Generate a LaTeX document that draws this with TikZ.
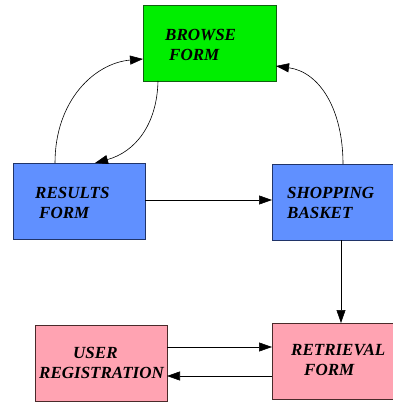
\documentclass[tikz,border=0pt]{standalone}
\usepackage{fontspec}
\setmainfont{Liberation Serif}
\usetikzlibrary{arrows.meta}
\definecolor{gfill}{HTML}{00EE00}
\definecolor{gdraw}{HTML}{106010}
\definecolor{bfill}{HTML}{6090FF}
\definecolor{bdraw}{HTML}{203468}
\definecolor{pfill}{HTML}{FFA3B2}
\definecolor{pdraw}{HTML}{4A2A2A}
\begin{document}
\begin{tikzpicture}[x=1pt,y=-1pt,
  lbl/.style={anchor=base west, inner sep=0pt, font=\fontsize{17}{20}\selectfont\bfseries\itshape},
  conn/.style={-{Triangle[length=13pt,width=9pt]}, line width=0.6pt}]
\useasboundingbox (0,0) rectangle (393,402);
% boxes
\path[fill=gfill, draw=gdraw, line width=1pt] (143.5,5.5) rectangle (276,81) node[pos=.5, inner sep=0pt] (browse) {};
\path[fill=bfill, draw=bdraw, line width=1pt] (13.5,163.5) rectangle (145,239) node[pos=.5, inner sep=0pt] (results) {};
\path[fill=bfill, draw=bdraw, line width=1pt] (272.5,164.5) rectangle (400,240) node[pos=.5, inner sep=0pt] (shop) {};
\path[fill=pfill, draw=pdraw, line width=1pt] (35.5,325.5) rectangle (167,401) node[pos=.5, inner sep=0pt] (user) {};
\path[fill=pfill, draw=pdraw, line width=1pt] (272.5,323.5) rectangle (400,399) node[pos=.5, inner sep=0pt] (retr) {};
% labels
\node[lbl] (t1) at (165,40) {BROWSE};
\node[lbl] (t2) at (169,60) {FORM};
\node[lbl] (t3) at (35,198) {RESULTS};
\node[lbl] (t4) at (39,218) {FORM};
\node[lbl] (t5) at (287,198) {SHOPPING};
\node[lbl] (t6) at (287,218) {BASKET};
\node[lbl] (t7) at (73,358) {USER};
\node[lbl] (t8) at (39,378) {REGISTRATION};
\node[lbl] (t9) at (291,355) {RETRIEVAL};
\node[lbl] (t10) at (304,375) {FORM};
% connector end points
\coordinate (rTop1) at (55,163);
\coordinate (bLeft) at (143,59);
\coordinate (bBot) at (158,81);
\coordinate (rTop2) at (95,163);
\coordinate (sTop) at (343,164);
\coordinate (bRight) at (276,66);
\coordinate (rRight) at (145,200);
\coordinate (sLeft) at (272,200);
\coordinate (sBot) at (341,240);
\coordinate (qTop) at (341,323);
\coordinate (uR1) at (167,347);
\coordinate (qL1) at (272,347);
\coordinate (qL2) at (272,376);
\coordinate (uR2) at (167,376);
% connectors
\draw[conn] (rTop1) .. controls (55,100) and (95,63) .. (bLeft);
\draw[conn] (bBot) .. controls (157,125) and (135,152) .. (rTop2);
\draw[conn] (sTop) .. controls (343,110) and (320,72) .. (bRight);
\draw[conn] (rRight) -- (sLeft);
\draw[conn] (sBot) -- (qTop);
\draw[conn] (uR1) -- (qL1);
\draw[conn] (qL2) -- (uR2);
\end{tikzpicture}
\end{document}
